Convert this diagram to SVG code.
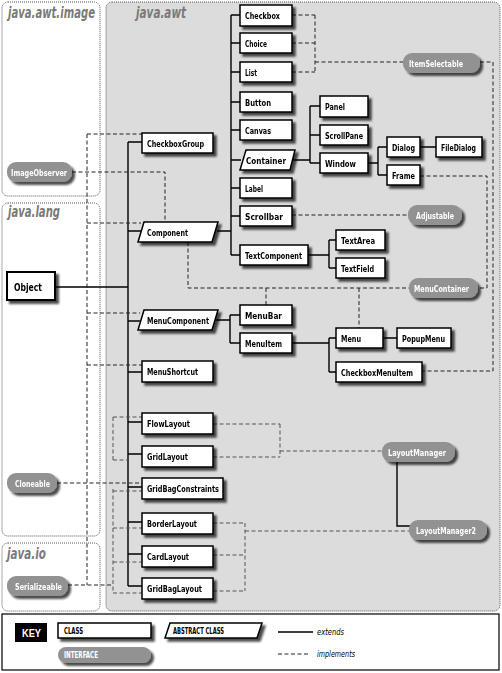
<svg xmlns="http://www.w3.org/2000/svg" width="502" height="673" viewBox="0 0 502 673">
<style>
.pkg{fill:#fff;stroke:#555;stroke-width:1;stroke-dasharray:1 1}
.awt{fill:#dcdcdc;stroke:#555;stroke-width:1;stroke-dasharray:1 1}
.ttl{font-family:"DejaVu Sans","Liberation Sans",sans-serif;font-weight:bold;font-style:italic;font-size:15px;fill:#7a7a7a}
.box{fill:#fff;stroke:#000;stroke-width:1.5}
.pill{fill:#929292;stroke:none}
.t{font-family:"DejaVu Sans","Liberation Sans",sans-serif;font-weight:bold;font-size:9.5px;fill:#000}
.it{font-family:"DejaVu Sans","Liberation Sans",sans-serif;font-weight:bold;font-size:9.5px;fill:#fff}
.sl{fill:none;stroke:#000;stroke-width:1.4}
.dl{fill:none;stroke:#222;stroke-width:1;stroke-dasharray:4 2.5}
.dg{fill:none;stroke:#555;stroke-width:1;stroke-dasharray:4 2.5}
.kt{font-family:"DejaVu Sans","Liberation Sans",sans-serif;font-weight:bold;font-size:8px;fill:#000}
.ki{font-family:"DejaVu Sans","Liberation Sans",sans-serif;font-style:italic;font-size:9px;fill:#000}
</style>
<defs>
<filter id="sh" x="-20%" y="-30%" width="150%" height="180%">
<feDropShadow dx="3" dy="3" stdDeviation="1.2" flood-color="#000" flood-opacity="0.7"/>
</filter>
</defs>
<rect x="0" y="0" width="502" height="673" fill="#fff"/>
<g id="packages">
<rect class="pkg" x="2" y="2" width="98" height="194" rx="6"/>
<text class="ttl" x="8" y="18" textLength="87" lengthAdjust="spacingAndGlyphs">java.awt.image</text>
<rect class="pkg" x="2" y="203" width="98" height="333" rx="6"/>
<text class="ttl" x="8" y="217" textLength="52" lengthAdjust="spacingAndGlyphs">java.lang</text>
<rect class="pkg" x="2" y="543" width="98" height="68" rx="6"/>
<text class="ttl" x="7" y="559" textLength="39" lengthAdjust="spacingAndGlyphs">java.io</text>
<rect class="awt" x="106" y="2" width="394" height="609" rx="6"/>
<text class="ttl" x="136" y="18" textLength="50" lengthAdjust="spacingAndGlyphs">java.awt</text>
</g>
<g id="connectors">
<path class="sl" d="M55 287H128M128 142V586M128 142H142M128 231H141M128 321H140M128 372H142M128 422H142M128 454H142M128 487H142M128 522H142M128 554H142M128 586H142"/>
<path class="sl" d="M217 231H231M231 15V255M231 15H240M231 43H240M231 72H240M231 102H240M231 130H240M231 160H241M231 188H240M231 216H240M231 255H240"/>
<path class="sl" d="M292 160H310M310 106V163M310 106H320M310 135H320M310 163H320"/>
<path class="sl" d="M368 163H378M378 147V175M378 147H387M378 175H387M420 147H436"/>
<path class="sl" d="M308 255H329M329 240V268M329 240H336M329 268H336"/>
<path class="sl" d="M216 320H230M230 315V343M230 315H240M230 343H240"/>
<path class="sl" d="M292 343H329M329 338V372M329 338H336M329 372H336M383 338H397"/>
<path class="sl" d="M397 462V526H410"/>
<path class="dl" d="M292 15H315M292 43H315M292 72H315M315 15V72M315 62H403M480 62H493V371H422"/>
<path class="dl" d="M420 176H487V288H478"/>
<path class="dl" d="M292 215H408"/>
<path class="dl" d="M188 242V288H409M266 288V305M359 288V328"/>
<path class="dl" d="M72 172H165V222"/>
<path class="dl" d="M87 134V585M87 134H142M87 223H141M87 313H140M87 365H142M68 585H113"/>
<path class="dg" d="M113 417V460M113 417H142M113 460H128M113 489V593M113 491H142M113 528H142M113 562H142M113 593H142"/>
<path class="dl" d="M57 483H142"/>
<path class="dg" d="M213 424H280M213 457H280M280 424V457M280 451H382"/>
<path class="dg" d="M213 523H245M213 555H245M213 591H245M245 523V591M245 531H409"/>
</g>
<g id="node-Object" filter="url(#sh)"><rect class="box" x="7" y="272" width="48" height="28" style="stroke-width:2"/><text class="t" x="14" y="291" style="font-size:11px" textLength="28" lengthAdjust="spacingAndGlyphs">Object</text></g>
<g id="node-CheckboxGroup" filter="url(#sh)"><rect class="box" x="142" y="133" width="71" height="20"/><text class="t" x="147" y="147" textLength="57" lengthAdjust="spacingAndGlyphs">CheckboxGroup</text></g>
<g id="node-Component" filter="url(#sh)"><polygon class="box" points="144,222 218,222 212,242 138,242"/><text class="t" x="147" y="236" textLength="41" lengthAdjust="spacingAndGlyphs">Component</text></g>
<g id="node-MenuComponent" filter="url(#sh)"><polygon class="box" points="144,310 218,310 212,330 138,330"/><text class="t" x="147" y="324" textLength="62" lengthAdjust="spacingAndGlyphs">MenuComponent</text></g>
<g id="node-MenuShortcut" filter="url(#sh)"><rect class="box" x="142" y="361" width="71" height="21"/><text class="t" x="147" y="375" textLength="51" lengthAdjust="spacingAndGlyphs">MenuShortcut</text></g>
<g id="node-FlowLayout" filter="url(#sh)"><rect class="box" x="142" y="413" width="71" height="21"/><text class="t" x="147" y="427" textLength="43" lengthAdjust="spacingAndGlyphs">FlowLayout</text></g>
<g id="node-GridLayout" filter="url(#sh)"><rect class="box" x="142" y="446" width="71" height="21"/><text class="t" x="147" y="460" textLength="41" lengthAdjust="spacingAndGlyphs">GridLayout</text></g>
<g id="node-GridBagConstraints" filter="url(#sh)"><rect class="box" x="142" y="478" width="81" height="21"/><text class="t" x="147" y="492" textLength="72" lengthAdjust="spacingAndGlyphs">GridBagConstraints</text></g>
<g id="node-BorderLayout" filter="url(#sh)"><rect class="box" x="142" y="513" width="71" height="21"/><text class="t" x="147" y="527" textLength="50" lengthAdjust="spacingAndGlyphs">BorderLayout</text></g>
<g id="node-CardLayout" filter="url(#sh)"><rect class="box" x="142" y="546" width="71" height="21"/><text class="t" x="147" y="560" textLength="42" lengthAdjust="spacingAndGlyphs">CardLayout</text></g>
<g id="node-GridBagLayout" filter="url(#sh)"><rect class="box" x="142" y="578" width="71" height="21"/><text class="t" x="147" y="592" textLength="55" lengthAdjust="spacingAndGlyphs">GridBagLayout</text></g>
<g id="node-Checkbox" filter="url(#sh)"><rect class="box" x="240" y="5" width="52" height="21"/><text class="t" x="245" y="19" textLength="35" lengthAdjust="spacingAndGlyphs">Checkbox</text></g>
<g id="node-Choice" filter="url(#sh)"><rect class="box" x="240" y="33" width="52" height="20"/><text class="t" x="245" y="47" textLength="22" lengthAdjust="spacingAndGlyphs">Choice</text></g>
<g id="node-List" filter="url(#sh)"><rect class="box" x="240" y="62" width="52" height="20"/><text class="t" x="245" y="76" textLength="12" lengthAdjust="spacingAndGlyphs">List</text></g>
<g id="node-Button" filter="url(#sh)"><rect class="box" x="240" y="92" width="52" height="20"/><text class="t" x="245" y="106" textLength="26" lengthAdjust="spacingAndGlyphs">Button</text></g>
<g id="node-Canvas" filter="url(#sh)"><rect class="box" x="240" y="120" width="52" height="20"/><text class="t" x="245" y="134" textLength="26" lengthAdjust="spacingAndGlyphs">Canvas</text></g>
<g id="node-Container" filter="url(#sh)"><polygon class="box" points="246,150 295,150 290,170 240,170"/><text class="t" x="246" y="164" textLength="40" lengthAdjust="spacingAndGlyphs">Container</text></g>
<g id="node-Label" filter="url(#sh)"><rect class="box" x="240" y="178" width="52" height="20"/><text class="t" x="245" y="192" textLength="18" lengthAdjust="spacingAndGlyphs">Label</text></g>
<g id="node-Scrollbar" filter="url(#sh)"><rect class="box" x="240" y="206" width="52" height="20"/><text class="t" x="245" y="220" textLength="38" lengthAdjust="spacingAndGlyphs">Scrollbar</text></g>
<g id="node-TextComponent" filter="url(#sh)"><rect class="box" x="240" y="245" width="68" height="20"/><text class="t" x="245" y="259" textLength="57" lengthAdjust="spacingAndGlyphs">TextComponent</text></g>
<g id="node-Panel" filter="url(#sh)"><rect class="box" x="320" y="96" width="48" height="21"/><text class="t" x="325" y="110" textLength="20" lengthAdjust="spacingAndGlyphs">Panel</text></g>
<g id="node-ScrollPane" filter="url(#sh)"><rect class="box" x="320" y="125" width="48" height="20"/><text class="t" x="325" y="139" textLength="38" lengthAdjust="spacingAndGlyphs">ScrollPane</text></g>
<g id="node-Window" filter="url(#sh)"><rect class="box" x="320" y="153" width="48" height="20"/><text class="t" x="325" y="167" textLength="31" lengthAdjust="spacingAndGlyphs">Window</text></g>
<g id="node-Dialog" filter="url(#sh)"><rect class="box" x="387" y="137" width="33" height="20"/><text class="t" x="392" y="151" textLength="23" lengthAdjust="spacingAndGlyphs">Dialog</text></g>
<g id="node-Frame" filter="url(#sh)"><rect class="box" x="387" y="165" width="33" height="20"/><text class="t" x="392" y="179" textLength="23" lengthAdjust="spacingAndGlyphs">Frame</text></g>
<g id="node-FileDialog" filter="url(#sh)"><rect class="box" x="436" y="137" width="46" height="20"/><text class="t" x="441" y="151" textLength="35" lengthAdjust="spacingAndGlyphs">FileDialog</text></g>
<g id="node-TextArea" filter="url(#sh)"><rect class="box" x="336" y="230" width="49" height="20"/><text class="t" x="341" y="244" textLength="34" lengthAdjust="spacingAndGlyphs">TextArea</text></g>
<g id="node-TextField" filter="url(#sh)"><rect class="box" x="336" y="258" width="49" height="20"/><text class="t" x="341" y="272" textLength="33" lengthAdjust="spacingAndGlyphs">TextField</text></g>
<g id="node-MenuBar" filter="url(#sh)"><rect class="box" x="240" y="305" width="52" height="20"/><text class="t" x="245" y="319" textLength="37" lengthAdjust="spacingAndGlyphs">MenuBar</text></g>
<g id="node-MenuItem" filter="url(#sh)"><rect class="box" x="240" y="333" width="52" height="20"/><text class="t" x="245" y="347" textLength="37" lengthAdjust="spacingAndGlyphs">MenuItem</text></g>
<g id="node-Menu" filter="url(#sh)"><rect class="box" x="336" y="328" width="47" height="20"/><text class="t" x="341" y="342" textLength="20" lengthAdjust="spacingAndGlyphs">Menu</text></g>
<g id="node-PopupMenu" filter="url(#sh)"><rect class="box" x="397" y="328" width="54" height="20"/><text class="t" x="402" y="342" textLength="43" lengthAdjust="spacingAndGlyphs">PopupMenu</text></g>
<g id="node-CheckboxMenuItem" filter="url(#sh)"><rect class="box" x="336" y="362" width="86" height="20"/><text class="t" x="341" y="376" textLength="72" lengthAdjust="spacingAndGlyphs">CheckboxMenuItem</text></g>
<g id="node-ItemSelectable" filter="url(#sh)"><rect class="pill" x="403" y="53" width="77" height="20" rx="9"/><text class="it" x="409" y="67" textLength="54" lengthAdjust="spacingAndGlyphs">ItemSelectable</text></g>
<g id="node-ImageObserver" filter="url(#sh)"><rect class="pill" x="7" y="162" width="65" height="20" rx="9"/><text class="it" x="11" y="176" textLength="56" lengthAdjust="spacingAndGlyphs">ImageObserver</text></g>
<g id="node-Adjustable" filter="url(#sh)"><rect class="pill" x="408" y="205" width="54" height="20" rx="9"/><text class="it" x="416" y="219" textLength="38" lengthAdjust="spacingAndGlyphs">Adjustable</text></g>
<g id="node-MenuContainer" filter="url(#sh)"><rect class="pill" x="409" y="278" width="69" height="20" rx="9"/><text class="it" x="414" y="292" textLength="55" lengthAdjust="spacingAndGlyphs">MenuContainer</text></g>
<g id="node-LayoutManager" filter="url(#sh)"><rect class="pill" x="382" y="442" width="73" height="20" rx="9"/><text class="it" x="388" y="456" textLength="58" lengthAdjust="spacingAndGlyphs">LayoutManager</text></g>
<g id="node-LayoutManager2" filter="url(#sh)"><rect class="pill" x="409" y="520" width="78" height="20" rx="9"/><text class="it" x="446" y="534" text-anchor="middle" style="font-size:9px" textLength="60" lengthAdjust="spacingAndGlyphs">LayoutManager2</text></g>
<g id="node-Cloneable" filter="url(#sh)"><rect class="pill" x="7" y="473" width="50" height="20" rx="9"/><text class="it" x="15" y="487" textLength="35" lengthAdjust="spacingAndGlyphs">Cloneable</text></g>
<g id="node-Serializeable" filter="url(#sh)"><rect class="pill" x="7" y="576" width="61" height="20" rx="9"/><text class="it" x="15" y="590" textLength="47" lengthAdjust="spacingAndGlyphs">Serializeable</text></g>
<g id="key">
<rect x="2" y="614" width="497" height="56" fill="#fff" stroke="#000" stroke-width="1.2"/>
<rect x="15" y="623" width="32" height="19" fill="#000"/>
<text x="22" y="637" font-family="'Liberation Sans',sans-serif" font-weight="bold" font-size="10" fill="#fff" textLength="19" lengthAdjust="spacingAndGlyphs">KEY</text>
<g filter="url(#sh)"><rect class="box" x="58" y="623" width="93" height="15"/></g>
<text class="kt" x="64" y="634" textLength="19" lengthAdjust="spacingAndGlyphs">CLASS</text>
<g filter="url(#sh)"><polygon class="box" points="170,623 262,623 257,638 165,638"/></g>
<text class="kt" x="173" y="634" textLength="51" lengthAdjust="spacingAndGlyphs">ABSTRACT CLASS</text>
<g filter="url(#sh)"><rect class="pill" x="58" y="647" width="93" height="16" rx="8"/></g>
<text class="kt" x="64" y="658" style="fill:#fff" textLength="34" lengthAdjust="spacingAndGlyphs">INTERFACE</text>
<path class="sl" d="M278 632H313"/>
<text class="ki" x="317" y="635" textLength="27" lengthAdjust="spacingAndGlyphs">extends</text>
<path class="dl" d="M278 654H308"/>
<text class="ki" x="317" y="657" textLength="38" lengthAdjust="spacingAndGlyphs">implements</text>
</g>
</svg>
